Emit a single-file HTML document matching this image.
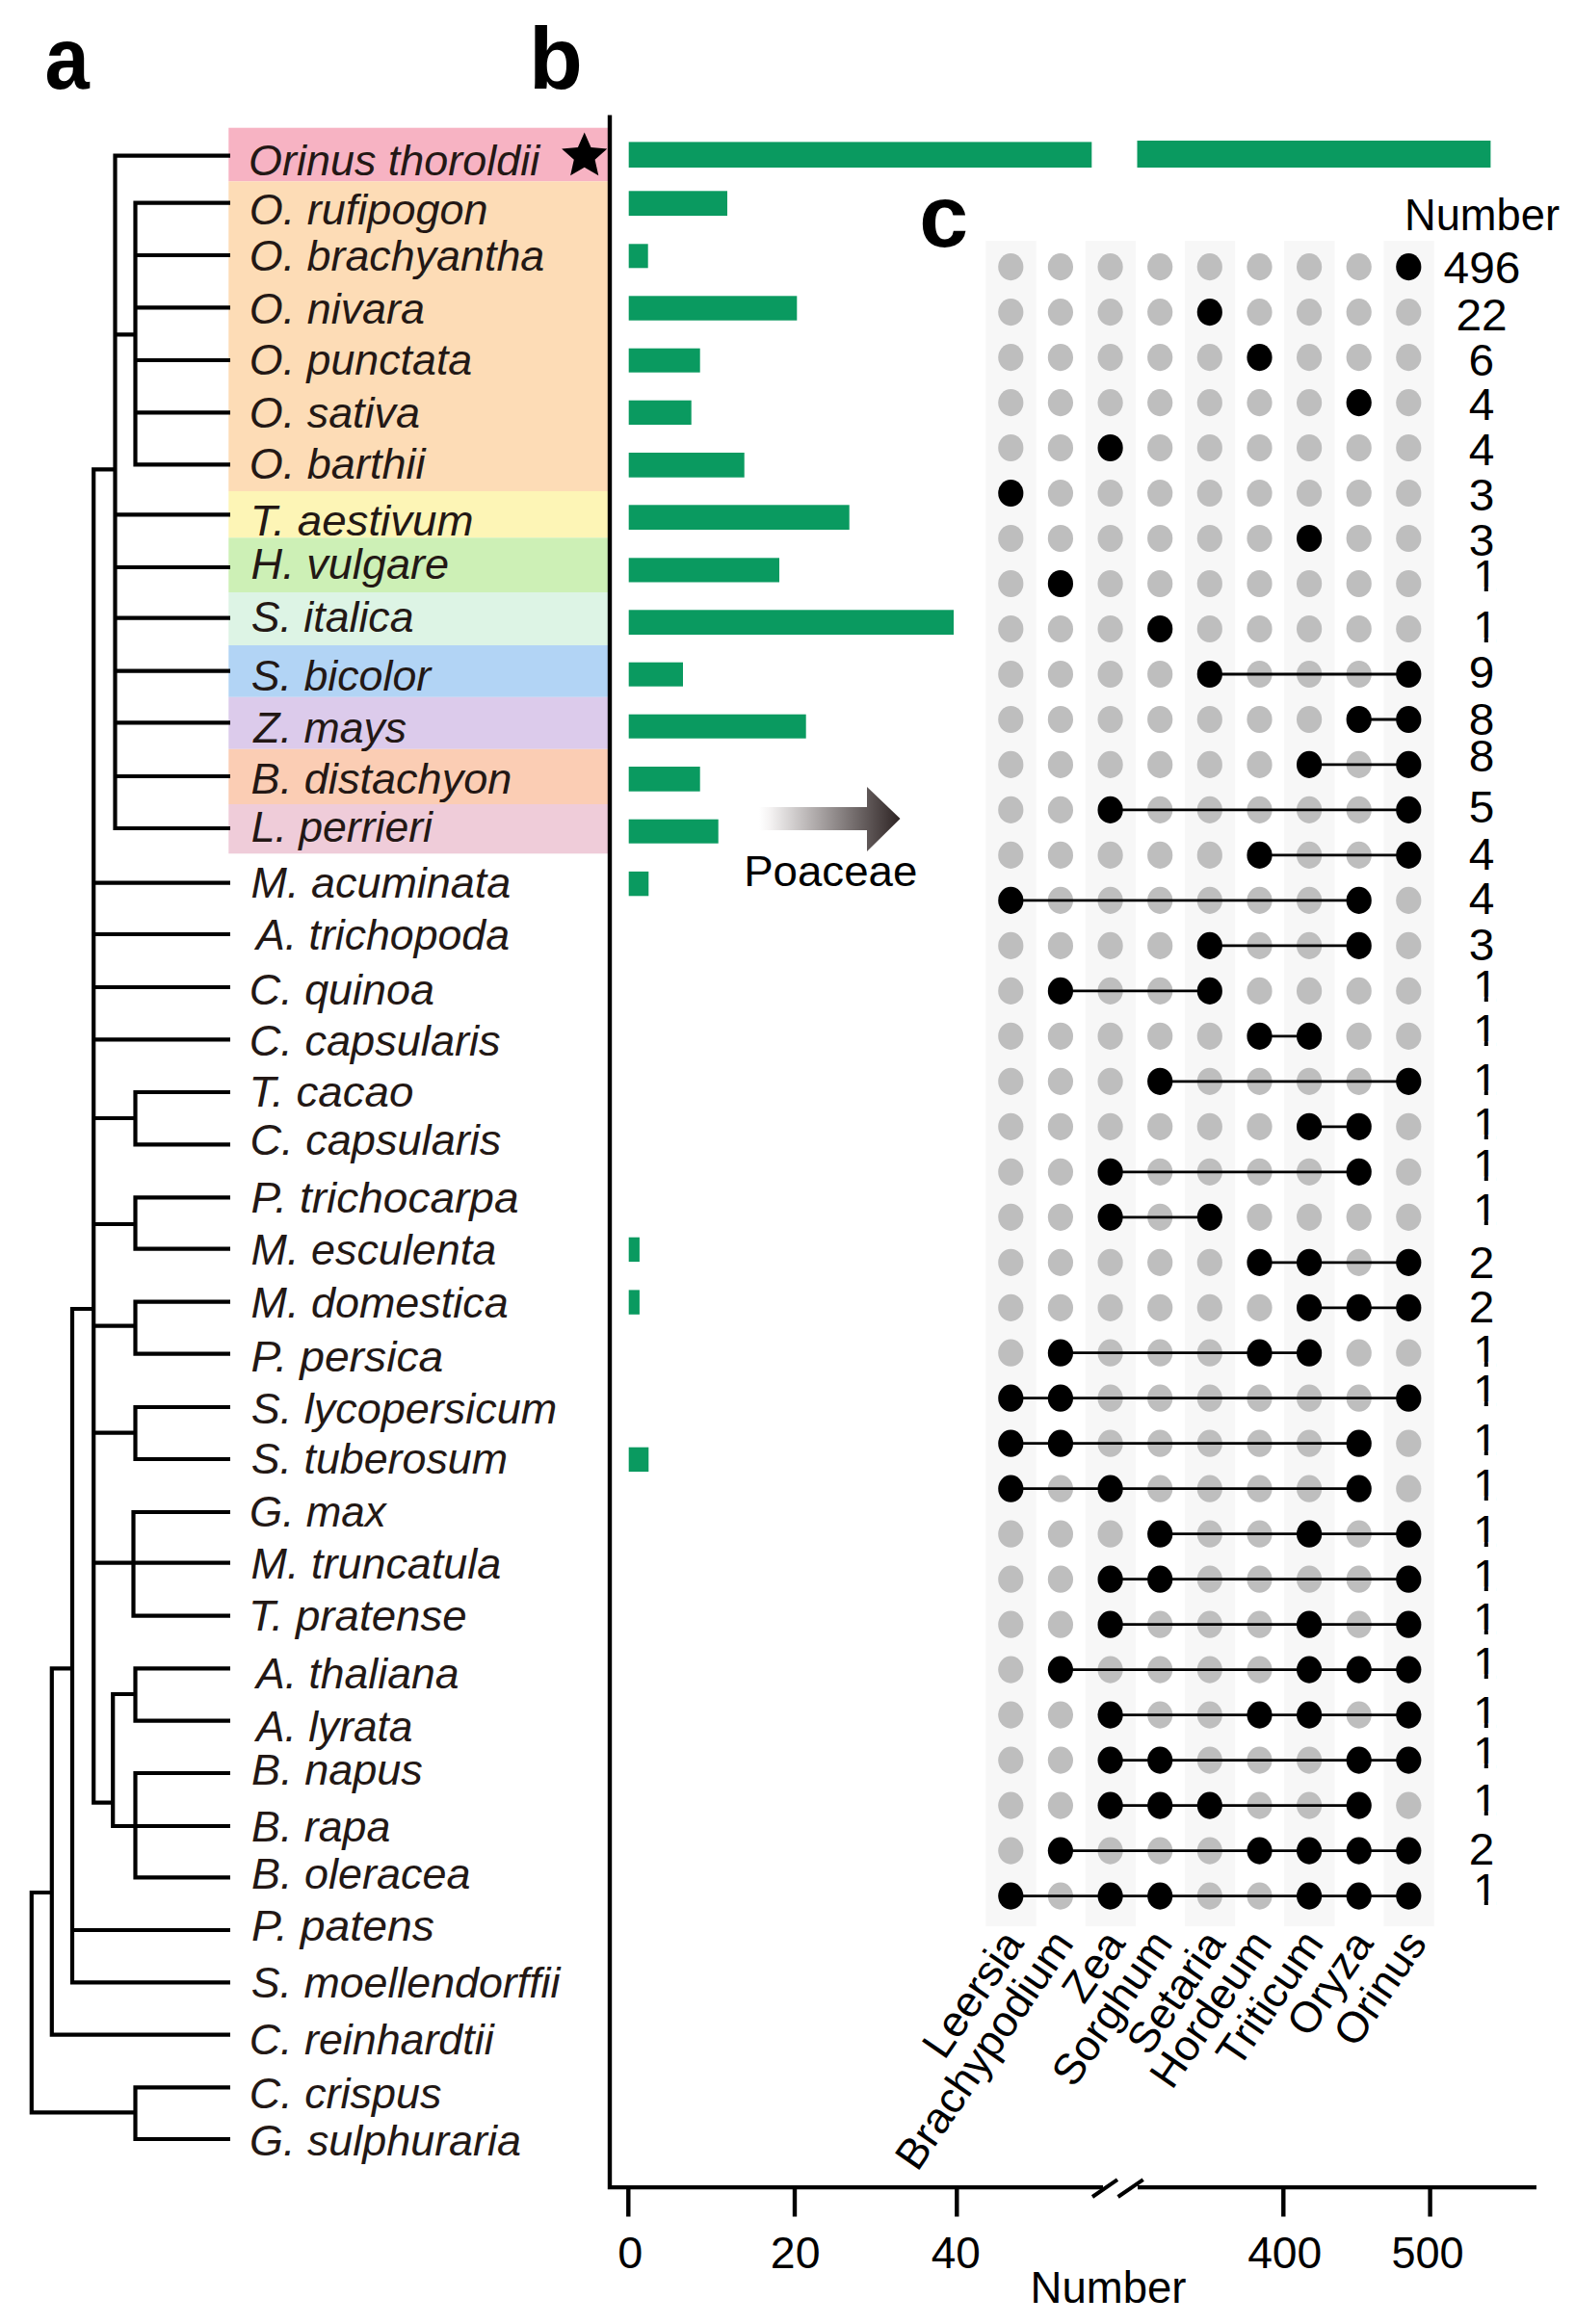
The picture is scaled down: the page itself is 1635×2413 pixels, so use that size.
<!DOCTYPE html>
<html lang="en"><head><meta charset="utf-8"><title>Figure</title>
<style>
html,body{margin:0;padding:0;background:#fff}
svg{display:block;font-family:"Liberation Sans",sans-serif}
</style></head>
<body>
<svg width="1635" height="2413" viewBox="0 0 1635 2413">
<rect width="1635" height="2413" fill="#fff"/>
<rect x="237.3" y="132.7" width="393.7" height="55.6" fill="#f7b3c3"/>
<rect x="237.3" y="188.3" width="393.7" height="321.7" fill="#fddcb6"/>
<rect x="237.3" y="510" width="393.7" height="48.3" fill="#fdf5b6"/>
<rect x="237.3" y="558.3" width="393.7" height="56.7" fill="#cdf0b6"/>
<rect x="237.3" y="615" width="393.7" height="55.0" fill="#ddf4e5"/>
<rect x="237.3" y="670" width="393.7" height="53.8" fill="#b2d4f5"/>
<rect x="237.3" y="723.8" width="393.7" height="54.0" fill="#dccbeb"/>
<rect x="237.3" y="777.8" width="393.7" height="57.2" fill="#fbcdb4"/>
<rect x="237.3" y="835" width="393.7" height="51.3" fill="#efccd9"/>
<path d="M117.4 161.7H239.0M138.4 210.7H239.0M138.4 265.0H239.0M138.4 319.3H239.0M138.4 374.0H239.0M138.4 428.3H239.0M138.4 482.3H239.0M140.5 210.7V482.3M119.5 347.3H140.5M119.5 534.3H239.0M119.5 589.0H239.0M119.5 641.7H239.0M119.5 696.7H239.0M119.5 750.3H239.0M119.5 806.0H239.0M117.4 860.0H239.0M119.5 161.7V860.0M95.1 487.3H119.5M97.2 487.3V1871.7M97.2 916.7H239.0M97.2 970.0H239.0M97.2 1025.0H239.0M97.2 1079.3H239.0M138.4 1134.0H239.0M138.4 1188.3H239.0M140.5 1134.0V1188.3M97.2 1161.0H140.5M138.4 1243.3H239.0M138.4 1296.7H239.0M140.5 1243.3V1296.7M97.2 1271.0H140.5M138.4 1351.7H239.0M138.4 1405.7H239.0M140.5 1351.7V1405.7M97.2 1376.7H140.5M138.4 1461.0H239.0M138.4 1515.0H239.0M140.5 1461.0V1515.0M97.2 1487.7H140.5M136.4 1570.0H239.0M97.2 1622.7H239.0M136.4 1677.7H239.0M138.5 1570.0V1677.7M138.4 1732.3H239.0M138.4 1786.7H239.0M140.5 1732.3V1786.7M115.1 1759.0H140.5M138.4 1841.0H239.0M115.1 1896.0H239.0M138.4 1949.3H239.0M140.5 1841.0V1949.3M117.2 1759.0V1896.0M95.1 1871.7H117.2M72.9 1359.0H97.2M75.0 1359.0V2058.3M75.0 2004.0H239.0M72.9 2058.3H239.0M51.7 1732.3H75.0M53.8 1732.3V2112.7M51.7 2112.7H239.0M30.7 1965.0H53.8M32.8 1965.0V2193.3M30.7 2193.3H140.5M138.4 2167.3H239.0M138.4 2221.0H239.0M140.5 2167.3V2221.0" stroke="#000" stroke-width="4.2" fill="none"/>
<text transform="translate(258.06,181.85) scale(0.9985,1)" font-size="45" font-style="italic" fill="#231815">Orinus thoroldii</text>
<text transform="translate(258.81,232.60) scale(1.0003,1)" font-size="45" font-style="italic" fill="#231815">O. rufipogon</text>
<text transform="translate(258.82,281.35) scale(0.9960,1)" font-size="45" font-style="italic" fill="#231815">O. brachyantha</text>
<text transform="translate(258.82,336.35) scale(0.9981,1)" font-size="45" font-style="italic" fill="#231815">O. nivara</text>
<text transform="translate(258.82,389.35) scale(0.9949,1)" font-size="45" font-style="italic" fill="#231815">O. punctata</text>
<text transform="translate(258.82,443.85) scale(0.9981,1)" font-size="45" font-style="italic" fill="#231815">O. sativa</text>
<text transform="translate(258.81,497.10) scale(1.0006,1)" font-size="45" font-style="italic" fill="#231815">O. barthii</text>
<text transform="translate(259.64,555.50) scale(1.0155,1)" font-size="45" font-style="italic" fill="#231815">T. aestivum</text>
<text transform="translate(260.61,600.50) scale(1.0023,1)" font-size="45" font-style="italic" fill="#231815">H. vulgare</text>
<text transform="translate(260.74,655.50) scale(0.9925,1)" font-size="45" font-style="italic" fill="#231815">S. italica</text>
<text transform="translate(260.73,716.75) scale(0.9943,1)" font-size="45" font-style="italic" fill="#231815">S. bicolor</text>
<text transform="translate(263.37,770.50) scale(0.9924,1)" font-size="45" font-style="italic" fill="#231815">Z. mays</text>
<text transform="translate(260.61,824.25) scale(1.0029,1)" font-size="45" font-style="italic" fill="#231815">B. distachyon</text>
<text transform="translate(260.63,874.25) scale(0.9911,1)" font-size="45" font-style="italic" fill="#231815">L. perrieri</text>
<text transform="translate(260.62,931.75) scale(0.9984,1)" font-size="45" font-style="italic" fill="#231815">M. acuminata</text>
<text transform="translate(265.95,985.50) scale(0.9921,1)" font-size="45" font-style="italic" fill="#231815">A. trichopoda</text>
<text transform="translate(258.77,1043.00) scale(0.9981,1)" font-size="45" font-style="italic" fill="#231815">C. quinoa</text>
<text transform="translate(258.76,1096.00) scale(1.0032,1)" font-size="45" font-style="italic" fill="#231815">C. capsularis</text>
<text transform="translate(258.39,1149.25) scale(1.0155,1)" font-size="45" font-style="italic" fill="#231815">T. cacao</text>
<text transform="translate(259.51,1199.25) scale(1.0032,1)" font-size="45" font-style="italic" fill="#231815">C. capsularis</text>
<text transform="translate(260.58,1258.50) scale(1.0227,1)" font-size="45" font-style="italic" fill="#231815">P. trichocarpa</text>
<text transform="translate(260.62,1313.00) scale(0.9982,1)" font-size="45" font-style="italic" fill="#231815">M. esculenta</text>
<text transform="translate(260.62,1368.00) scale(0.9984,1)" font-size="45" font-style="italic" fill="#231815">M. domestica</text>
<text transform="translate(260.58,1423.50) scale(1.0282,1)" font-size="45" font-style="italic" fill="#231815">P. persica</text>
<text transform="translate(260.73,1477.50) scale(1.0001,1)" font-size="45" font-style="italic" fill="#231815">S. lycopersicum</text>
<text transform="translate(260.73,1530.00) scale(0.9952,1)" font-size="45" font-style="italic" fill="#231815">S. tuberosum</text>
<text transform="translate(259.08,1585.00) scale(0.9766,1)" font-size="45" font-style="italic" fill="#231815">G. max</text>
<text transform="translate(260.62,1639.25) scale(0.9983,1)" font-size="45" font-style="italic" fill="#231815">M. truncatula</text>
<text transform="translate(257.90,1693.00) scale(1.0148,1)" font-size="45" font-style="italic" fill="#231815">T. pratense</text>
<text transform="translate(265.95,1753.00) scale(0.9902,1)" font-size="45" font-style="italic" fill="#231815">A. thaliana</text>
<text transform="translate(265.94,1808.00) scale(0.9850,1)" font-size="45" font-style="italic" fill="#231815">A. lyrata</text>
<text transform="translate(261.11,1853.00) scale(1.0010,1)" font-size="45" font-style="italic" fill="#231815">B. napus</text>
<text transform="translate(261.12,1911.75) scale(0.9936,1)" font-size="45" font-style="italic" fill="#231815">B. rapa</text>
<text transform="translate(261.12,1961.00) scale(0.9990,1)" font-size="45" font-style="italic" fill="#231815">B. oleracea</text>
<text transform="translate(261.07,2015.00) scale(1.0301,1)" font-size="45" font-style="italic" fill="#231815">P. patens</text>
<text transform="translate(260.73,2074.25) scale(0.9942,1)" font-size="45" font-style="italic" fill="#231815">S. moellendorffii</text>
<text transform="translate(258.78,2132.50) scale(0.9955,1)" font-size="45" font-style="italic" fill="#231815">C. reinhardtii</text>
<text transform="translate(258.77,2188.50) scale(0.9981,1)" font-size="45" font-style="italic" fill="#231815">C. crispus</text>
<text transform="translate(259.04,2238.00) scale(0.9978,1)" font-size="45" font-style="italic" fill="#231815">G. sulphuraria</text>
<polygon points="606.7,137.4 613.5,152.9 630.3,154.5 617.6,165.8 621.3,182.3 606.7,173.7 592.1,182.3 595.8,165.8 583.1,154.5 599.9,152.9" fill="#000"/>
<text transform="translate(46.56,91.60) scale(0.9252,1)" font-size="90" font-weight="bold" fill="#000">a</text>
<text transform="translate(549.07,91.60) scale(1.0165,1)" font-size="90" font-weight="bold" fill="#000">b</text>
<text transform="translate(954.13,255.60) scale(1.0159,1)" font-size="90" font-weight="bold" fill="#000">c</text>
<rect x="652.7" y="147.4" width="480.6" height="26.6" fill="#0a9a60"/>
<rect x="652.7" y="198.3" width="102.3" height="25.7" fill="#0a9a60"/>
<rect x="652.7" y="253.3" width="20.0" height="25.0" fill="#0a9a60"/>
<rect x="652.7" y="307.3" width="174.6" height="25.4" fill="#0a9a60"/>
<rect x="652.7" y="361.7" width="74.0" height="25.0" fill="#0a9a60"/>
<rect x="652.7" y="415.7" width="65.0" height="25.3" fill="#0a9a60"/>
<rect x="652.7" y="470" width="120.0" height="25.7" fill="#0a9a60"/>
<rect x="652.7" y="524.3" width="229.0" height="25.7" fill="#0a9a60"/>
<rect x="652.7" y="579.3" width="156.3" height="25.2" fill="#0a9a60"/>
<rect x="652.7" y="633.3" width="337.3" height="25.7" fill="#0a9a60"/>
<rect x="652.7" y="687.7" width="56.3" height="25.0" fill="#0a9a60"/>
<rect x="652.7" y="741.7" width="184.0" height="25.0" fill="#0a9a60"/>
<rect x="652.7" y="796" width="74.0" height="25.7" fill="#0a9a60"/>
<rect x="652.7" y="850.7" width="93.0" height="25.0" fill="#0a9a60"/>
<rect x="652.7" y="904.9" width="20.6" height="25.4" fill="#0a9a60"/>
<rect x="652.7" y="1284.7" width="11.2" height="25.4" fill="#0a9a60"/>
<rect x="652.7" y="1339.4" width="11.2" height="25.4" fill="#0a9a60"/>
<rect x="652.7" y="1502.7" width="20.6" height="25.4" fill="#0a9a60"/>
<rect x="1180.5" y="146" width="366.9" height="28" fill="#0a9a60"/>
<defs><linearGradient id="ag" x1="788" x2="934" y1="0" y2="0" gradientUnits="userSpaceOnUse"><stop offset="0" stop-color="#fff"/><stop offset="0.08" stop-color="#f4f2f2"/><stop offset="1" stop-color="#2e2424"/></linearGradient></defs>
<path d="M788 838H900V817L934.5 850L900 884V862H788Z" fill="url(#ag)"/>
<text transform="translate(772.16,920.20) scale(1.0142,1)" font-size="45" fill="#000">Poaceae</text>
<rect x="1023.4" y="250" width="52.3" height="1750.2" fill="#f7f7f7"/>
<rect x="1126.7" y="250" width="52.3" height="1750.2" fill="#f7f7f7"/>
<rect x="1229.9" y="250" width="52.3" height="1750.2" fill="#f7f7f7"/>
<rect x="1333.2" y="250" width="52.3" height="1750.2" fill="#f7f7f7"/>
<rect x="1436.4" y="250" width="52.3" height="1750.2" fill="#f7f7f7"/>
<g fill="#bebebe"><ellipse cx="1049.3" cy="277.1" rx="13.1" ry="14.1"/><ellipse cx="1100.9" cy="277.1" rx="13.1" ry="14.1"/><ellipse cx="1152.6" cy="277.1" rx="13.1" ry="14.1"/><ellipse cx="1204.2" cy="277.1" rx="13.1" ry="14.1"/><ellipse cx="1255.8" cy="277.1" rx="13.1" ry="14.1"/><ellipse cx="1307.5" cy="277.1" rx="13.1" ry="14.1"/><ellipse cx="1359.1" cy="277.1" rx="13.1" ry="14.1"/><ellipse cx="1410.7" cy="277.1" rx="13.1" ry="14.1"/><ellipse cx="1049.3" cy="324.1" rx="13.1" ry="14.1"/><ellipse cx="1100.9" cy="324.1" rx="13.1" ry="14.1"/><ellipse cx="1152.6" cy="324.1" rx="13.1" ry="14.1"/><ellipse cx="1204.2" cy="324.1" rx="13.1" ry="14.1"/><ellipse cx="1307.5" cy="324.1" rx="13.1" ry="14.1"/><ellipse cx="1359.1" cy="324.1" rx="13.1" ry="14.1"/><ellipse cx="1410.7" cy="324.1" rx="13.1" ry="14.1"/><ellipse cx="1462.3" cy="324.1" rx="13.1" ry="14.1"/><ellipse cx="1049.3" cy="371.1" rx="13.1" ry="14.1"/><ellipse cx="1100.9" cy="371.1" rx="13.1" ry="14.1"/><ellipse cx="1152.6" cy="371.1" rx="13.1" ry="14.1"/><ellipse cx="1204.2" cy="371.1" rx="13.1" ry="14.1"/><ellipse cx="1255.8" cy="371.1" rx="13.1" ry="14.1"/><ellipse cx="1359.1" cy="371.1" rx="13.1" ry="14.1"/><ellipse cx="1410.7" cy="371.1" rx="13.1" ry="14.1"/><ellipse cx="1462.3" cy="371.1" rx="13.1" ry="14.1"/><ellipse cx="1049.3" cy="418.1" rx="13.1" ry="14.1"/><ellipse cx="1100.9" cy="418.1" rx="13.1" ry="14.1"/><ellipse cx="1152.6" cy="418.1" rx="13.1" ry="14.1"/><ellipse cx="1204.2" cy="418.1" rx="13.1" ry="14.1"/><ellipse cx="1255.8" cy="418.1" rx="13.1" ry="14.1"/><ellipse cx="1307.5" cy="418.1" rx="13.1" ry="14.1"/><ellipse cx="1359.1" cy="418.1" rx="13.1" ry="14.1"/><ellipse cx="1462.3" cy="418.1" rx="13.1" ry="14.1"/><ellipse cx="1049.3" cy="465.0" rx="13.1" ry="14.1"/><ellipse cx="1100.9" cy="465.0" rx="13.1" ry="14.1"/><ellipse cx="1204.2" cy="465.0" rx="13.1" ry="14.1"/><ellipse cx="1255.8" cy="465.0" rx="13.1" ry="14.1"/><ellipse cx="1307.5" cy="465.0" rx="13.1" ry="14.1"/><ellipse cx="1359.1" cy="465.0" rx="13.1" ry="14.1"/><ellipse cx="1410.7" cy="465.0" rx="13.1" ry="14.1"/><ellipse cx="1462.3" cy="465.0" rx="13.1" ry="14.1"/><ellipse cx="1100.9" cy="512.0" rx="13.1" ry="14.1"/><ellipse cx="1152.6" cy="512.0" rx="13.1" ry="14.1"/><ellipse cx="1204.2" cy="512.0" rx="13.1" ry="14.1"/><ellipse cx="1255.8" cy="512.0" rx="13.1" ry="14.1"/><ellipse cx="1307.5" cy="512.0" rx="13.1" ry="14.1"/><ellipse cx="1359.1" cy="512.0" rx="13.1" ry="14.1"/><ellipse cx="1410.7" cy="512.0" rx="13.1" ry="14.1"/><ellipse cx="1462.3" cy="512.0" rx="13.1" ry="14.1"/><ellipse cx="1049.3" cy="559.0" rx="13.1" ry="14.1"/><ellipse cx="1100.9" cy="559.0" rx="13.1" ry="14.1"/><ellipse cx="1152.6" cy="559.0" rx="13.1" ry="14.1"/><ellipse cx="1204.2" cy="559.0" rx="13.1" ry="14.1"/><ellipse cx="1255.8" cy="559.0" rx="13.1" ry="14.1"/><ellipse cx="1307.5" cy="559.0" rx="13.1" ry="14.1"/><ellipse cx="1410.7" cy="559.0" rx="13.1" ry="14.1"/><ellipse cx="1462.3" cy="559.0" rx="13.1" ry="14.1"/><ellipse cx="1049.3" cy="606.0" rx="13.1" ry="14.1"/><ellipse cx="1152.6" cy="606.0" rx="13.1" ry="14.1"/><ellipse cx="1204.2" cy="606.0" rx="13.1" ry="14.1"/><ellipse cx="1255.8" cy="606.0" rx="13.1" ry="14.1"/><ellipse cx="1307.5" cy="606.0" rx="13.1" ry="14.1"/><ellipse cx="1359.1" cy="606.0" rx="13.1" ry="14.1"/><ellipse cx="1410.7" cy="606.0" rx="13.1" ry="14.1"/><ellipse cx="1462.3" cy="606.0" rx="13.1" ry="14.1"/><ellipse cx="1049.3" cy="653.0" rx="13.1" ry="14.1"/><ellipse cx="1100.9" cy="653.0" rx="13.1" ry="14.1"/><ellipse cx="1152.6" cy="653.0" rx="13.1" ry="14.1"/><ellipse cx="1255.8" cy="653.0" rx="13.1" ry="14.1"/><ellipse cx="1307.5" cy="653.0" rx="13.1" ry="14.1"/><ellipse cx="1359.1" cy="653.0" rx="13.1" ry="14.1"/><ellipse cx="1410.7" cy="653.0" rx="13.1" ry="14.1"/><ellipse cx="1462.3" cy="653.0" rx="13.1" ry="14.1"/><ellipse cx="1049.3" cy="700.0" rx="13.1" ry="14.1"/><ellipse cx="1100.9" cy="700.0" rx="13.1" ry="14.1"/><ellipse cx="1152.6" cy="700.0" rx="13.1" ry="14.1"/><ellipse cx="1204.2" cy="700.0" rx="13.1" ry="14.1"/><ellipse cx="1307.5" cy="700.0" rx="13.1" ry="14.1"/><ellipse cx="1359.1" cy="700.0" rx="13.1" ry="14.1"/><ellipse cx="1410.7" cy="700.0" rx="13.1" ry="14.1"/><ellipse cx="1049.3" cy="747.0" rx="13.1" ry="14.1"/><ellipse cx="1100.9" cy="747.0" rx="13.1" ry="14.1"/><ellipse cx="1152.6" cy="747.0" rx="13.1" ry="14.1"/><ellipse cx="1204.2" cy="747.0" rx="13.1" ry="14.1"/><ellipse cx="1255.8" cy="747.0" rx="13.1" ry="14.1"/><ellipse cx="1307.5" cy="747.0" rx="13.1" ry="14.1"/><ellipse cx="1359.1" cy="747.0" rx="13.1" ry="14.1"/><ellipse cx="1049.3" cy="793.9" rx="13.1" ry="14.1"/><ellipse cx="1100.9" cy="793.9" rx="13.1" ry="14.1"/><ellipse cx="1152.6" cy="793.9" rx="13.1" ry="14.1"/><ellipse cx="1204.2" cy="793.9" rx="13.1" ry="14.1"/><ellipse cx="1255.8" cy="793.9" rx="13.1" ry="14.1"/><ellipse cx="1307.5" cy="793.9" rx="13.1" ry="14.1"/><ellipse cx="1410.7" cy="793.9" rx="13.1" ry="14.1"/><ellipse cx="1049.3" cy="840.9" rx="13.1" ry="14.1"/><ellipse cx="1100.9" cy="840.9" rx="13.1" ry="14.1"/><ellipse cx="1204.2" cy="840.9" rx="13.1" ry="14.1"/><ellipse cx="1255.8" cy="840.9" rx="13.1" ry="14.1"/><ellipse cx="1307.5" cy="840.9" rx="13.1" ry="14.1"/><ellipse cx="1359.1" cy="840.9" rx="13.1" ry="14.1"/><ellipse cx="1410.7" cy="840.9" rx="13.1" ry="14.1"/><ellipse cx="1049.3" cy="887.9" rx="13.1" ry="14.1"/><ellipse cx="1100.9" cy="887.9" rx="13.1" ry="14.1"/><ellipse cx="1152.6" cy="887.9" rx="13.1" ry="14.1"/><ellipse cx="1204.2" cy="887.9" rx="13.1" ry="14.1"/><ellipse cx="1255.8" cy="887.9" rx="13.1" ry="14.1"/><ellipse cx="1359.1" cy="887.9" rx="13.1" ry="14.1"/><ellipse cx="1410.7" cy="887.9" rx="13.1" ry="14.1"/><ellipse cx="1100.9" cy="934.9" rx="13.1" ry="14.1"/><ellipse cx="1152.6" cy="934.9" rx="13.1" ry="14.1"/><ellipse cx="1204.2" cy="934.9" rx="13.1" ry="14.1"/><ellipse cx="1255.8" cy="934.9" rx="13.1" ry="14.1"/><ellipse cx="1307.5" cy="934.9" rx="13.1" ry="14.1"/><ellipse cx="1359.1" cy="934.9" rx="13.1" ry="14.1"/><ellipse cx="1462.3" cy="934.9" rx="13.1" ry="14.1"/><ellipse cx="1049.3" cy="981.9" rx="13.1" ry="14.1"/><ellipse cx="1100.9" cy="981.9" rx="13.1" ry="14.1"/><ellipse cx="1152.6" cy="981.9" rx="13.1" ry="14.1"/><ellipse cx="1204.2" cy="981.9" rx="13.1" ry="14.1"/><ellipse cx="1307.5" cy="981.9" rx="13.1" ry="14.1"/><ellipse cx="1359.1" cy="981.9" rx="13.1" ry="14.1"/><ellipse cx="1462.3" cy="981.9" rx="13.1" ry="14.1"/><ellipse cx="1049.3" cy="1028.9" rx="13.1" ry="14.1"/><ellipse cx="1152.6" cy="1028.9" rx="13.1" ry="14.1"/><ellipse cx="1204.2" cy="1028.9" rx="13.1" ry="14.1"/><ellipse cx="1307.5" cy="1028.9" rx="13.1" ry="14.1"/><ellipse cx="1359.1" cy="1028.9" rx="13.1" ry="14.1"/><ellipse cx="1410.7" cy="1028.9" rx="13.1" ry="14.1"/><ellipse cx="1462.3" cy="1028.9" rx="13.1" ry="14.1"/><ellipse cx="1049.3" cy="1075.8" rx="13.1" ry="14.1"/><ellipse cx="1100.9" cy="1075.8" rx="13.1" ry="14.1"/><ellipse cx="1152.6" cy="1075.8" rx="13.1" ry="14.1"/><ellipse cx="1204.2" cy="1075.8" rx="13.1" ry="14.1"/><ellipse cx="1255.8" cy="1075.8" rx="13.1" ry="14.1"/><ellipse cx="1410.7" cy="1075.8" rx="13.1" ry="14.1"/><ellipse cx="1462.3" cy="1075.8" rx="13.1" ry="14.1"/><ellipse cx="1049.3" cy="1122.8" rx="13.1" ry="14.1"/><ellipse cx="1100.9" cy="1122.8" rx="13.1" ry="14.1"/><ellipse cx="1152.6" cy="1122.8" rx="13.1" ry="14.1"/><ellipse cx="1255.8" cy="1122.8" rx="13.1" ry="14.1"/><ellipse cx="1307.5" cy="1122.8" rx="13.1" ry="14.1"/><ellipse cx="1359.1" cy="1122.8" rx="13.1" ry="14.1"/><ellipse cx="1410.7" cy="1122.8" rx="13.1" ry="14.1"/><ellipse cx="1049.3" cy="1169.8" rx="13.1" ry="14.1"/><ellipse cx="1100.9" cy="1169.8" rx="13.1" ry="14.1"/><ellipse cx="1152.6" cy="1169.8" rx="13.1" ry="14.1"/><ellipse cx="1204.2" cy="1169.8" rx="13.1" ry="14.1"/><ellipse cx="1255.8" cy="1169.8" rx="13.1" ry="14.1"/><ellipse cx="1307.5" cy="1169.8" rx="13.1" ry="14.1"/><ellipse cx="1462.3" cy="1169.8" rx="13.1" ry="14.1"/><ellipse cx="1049.3" cy="1216.8" rx="13.1" ry="14.1"/><ellipse cx="1100.9" cy="1216.8" rx="13.1" ry="14.1"/><ellipse cx="1204.2" cy="1216.8" rx="13.1" ry="14.1"/><ellipse cx="1255.8" cy="1216.8" rx="13.1" ry="14.1"/><ellipse cx="1307.5" cy="1216.8" rx="13.1" ry="14.1"/><ellipse cx="1359.1" cy="1216.8" rx="13.1" ry="14.1"/><ellipse cx="1462.3" cy="1216.8" rx="13.1" ry="14.1"/><ellipse cx="1049.3" cy="1263.8" rx="13.1" ry="14.1"/><ellipse cx="1100.9" cy="1263.8" rx="13.1" ry="14.1"/><ellipse cx="1204.2" cy="1263.8" rx="13.1" ry="14.1"/><ellipse cx="1307.5" cy="1263.8" rx="13.1" ry="14.1"/><ellipse cx="1359.1" cy="1263.8" rx="13.1" ry="14.1"/><ellipse cx="1410.7" cy="1263.8" rx="13.1" ry="14.1"/><ellipse cx="1462.3" cy="1263.8" rx="13.1" ry="14.1"/><ellipse cx="1049.3" cy="1310.8" rx="13.1" ry="14.1"/><ellipse cx="1100.9" cy="1310.8" rx="13.1" ry="14.1"/><ellipse cx="1152.6" cy="1310.8" rx="13.1" ry="14.1"/><ellipse cx="1204.2" cy="1310.8" rx="13.1" ry="14.1"/><ellipse cx="1255.8" cy="1310.8" rx="13.1" ry="14.1"/><ellipse cx="1410.7" cy="1310.8" rx="13.1" ry="14.1"/><ellipse cx="1049.3" cy="1357.8" rx="13.1" ry="14.1"/><ellipse cx="1100.9" cy="1357.8" rx="13.1" ry="14.1"/><ellipse cx="1152.6" cy="1357.8" rx="13.1" ry="14.1"/><ellipse cx="1204.2" cy="1357.8" rx="13.1" ry="14.1"/><ellipse cx="1255.8" cy="1357.8" rx="13.1" ry="14.1"/><ellipse cx="1307.5" cy="1357.8" rx="13.1" ry="14.1"/><ellipse cx="1049.3" cy="1404.7" rx="13.1" ry="14.1"/><ellipse cx="1152.6" cy="1404.7" rx="13.1" ry="14.1"/><ellipse cx="1204.2" cy="1404.7" rx="13.1" ry="14.1"/><ellipse cx="1255.8" cy="1404.7" rx="13.1" ry="14.1"/><ellipse cx="1410.7" cy="1404.7" rx="13.1" ry="14.1"/><ellipse cx="1462.3" cy="1404.7" rx="13.1" ry="14.1"/><ellipse cx="1152.6" cy="1451.7" rx="13.1" ry="14.1"/><ellipse cx="1204.2" cy="1451.7" rx="13.1" ry="14.1"/><ellipse cx="1255.8" cy="1451.7" rx="13.1" ry="14.1"/><ellipse cx="1307.5" cy="1451.7" rx="13.1" ry="14.1"/><ellipse cx="1359.1" cy="1451.7" rx="13.1" ry="14.1"/><ellipse cx="1410.7" cy="1451.7" rx="13.1" ry="14.1"/><ellipse cx="1152.6" cy="1498.7" rx="13.1" ry="14.1"/><ellipse cx="1204.2" cy="1498.7" rx="13.1" ry="14.1"/><ellipse cx="1255.8" cy="1498.7" rx="13.1" ry="14.1"/><ellipse cx="1307.5" cy="1498.7" rx="13.1" ry="14.1"/><ellipse cx="1359.1" cy="1498.7" rx="13.1" ry="14.1"/><ellipse cx="1462.3" cy="1498.7" rx="13.1" ry="14.1"/><ellipse cx="1100.9" cy="1545.7" rx="13.1" ry="14.1"/><ellipse cx="1204.2" cy="1545.7" rx="13.1" ry="14.1"/><ellipse cx="1255.8" cy="1545.7" rx="13.1" ry="14.1"/><ellipse cx="1307.5" cy="1545.7" rx="13.1" ry="14.1"/><ellipse cx="1359.1" cy="1545.7" rx="13.1" ry="14.1"/><ellipse cx="1462.3" cy="1545.7" rx="13.1" ry="14.1"/><ellipse cx="1049.3" cy="1592.7" rx="13.1" ry="14.1"/><ellipse cx="1100.9" cy="1592.7" rx="13.1" ry="14.1"/><ellipse cx="1152.6" cy="1592.7" rx="13.1" ry="14.1"/><ellipse cx="1255.8" cy="1592.7" rx="13.1" ry="14.1"/><ellipse cx="1307.5" cy="1592.7" rx="13.1" ry="14.1"/><ellipse cx="1410.7" cy="1592.7" rx="13.1" ry="14.1"/><ellipse cx="1049.3" cy="1639.7" rx="13.1" ry="14.1"/><ellipse cx="1100.9" cy="1639.7" rx="13.1" ry="14.1"/><ellipse cx="1255.8" cy="1639.7" rx="13.1" ry="14.1"/><ellipse cx="1307.5" cy="1639.7" rx="13.1" ry="14.1"/><ellipse cx="1359.1" cy="1639.7" rx="13.1" ry="14.1"/><ellipse cx="1410.7" cy="1639.7" rx="13.1" ry="14.1"/><ellipse cx="1049.3" cy="1686.7" rx="13.1" ry="14.1"/><ellipse cx="1100.9" cy="1686.7" rx="13.1" ry="14.1"/><ellipse cx="1204.2" cy="1686.7" rx="13.1" ry="14.1"/><ellipse cx="1255.8" cy="1686.7" rx="13.1" ry="14.1"/><ellipse cx="1307.5" cy="1686.7" rx="13.1" ry="14.1"/><ellipse cx="1410.7" cy="1686.7" rx="13.1" ry="14.1"/><ellipse cx="1049.3" cy="1733.6" rx="13.1" ry="14.1"/><ellipse cx="1152.6" cy="1733.6" rx="13.1" ry="14.1"/><ellipse cx="1204.2" cy="1733.6" rx="13.1" ry="14.1"/><ellipse cx="1255.8" cy="1733.6" rx="13.1" ry="14.1"/><ellipse cx="1307.5" cy="1733.6" rx="13.1" ry="14.1"/><ellipse cx="1049.3" cy="1780.6" rx="13.1" ry="14.1"/><ellipse cx="1100.9" cy="1780.6" rx="13.1" ry="14.1"/><ellipse cx="1204.2" cy="1780.6" rx="13.1" ry="14.1"/><ellipse cx="1255.8" cy="1780.6" rx="13.1" ry="14.1"/><ellipse cx="1410.7" cy="1780.6" rx="13.1" ry="14.1"/><ellipse cx="1049.3" cy="1827.6" rx="13.1" ry="14.1"/><ellipse cx="1100.9" cy="1827.6" rx="13.1" ry="14.1"/><ellipse cx="1255.8" cy="1827.6" rx="13.1" ry="14.1"/><ellipse cx="1307.5" cy="1827.6" rx="13.1" ry="14.1"/><ellipse cx="1359.1" cy="1827.6" rx="13.1" ry="14.1"/><ellipse cx="1049.3" cy="1874.6" rx="13.1" ry="14.1"/><ellipse cx="1100.9" cy="1874.6" rx="13.1" ry="14.1"/><ellipse cx="1307.5" cy="1874.6" rx="13.1" ry="14.1"/><ellipse cx="1359.1" cy="1874.6" rx="13.1" ry="14.1"/><ellipse cx="1462.3" cy="1874.6" rx="13.1" ry="14.1"/><ellipse cx="1049.3" cy="1921.6" rx="13.1" ry="14.1"/><ellipse cx="1152.6" cy="1921.6" rx="13.1" ry="14.1"/><ellipse cx="1204.2" cy="1921.6" rx="13.1" ry="14.1"/><ellipse cx="1255.8" cy="1921.6" rx="13.1" ry="14.1"/><ellipse cx="1100.9" cy="1968.6" rx="13.1" ry="14.1"/><ellipse cx="1255.8" cy="1968.6" rx="13.1" ry="14.1"/><ellipse cx="1307.5" cy="1968.6" rx="13.1" ry="14.1"/></g>
<path d="M1255.8 700.0H1462.3M1410.7 747.0H1462.3M1359.1 793.9H1462.3M1152.6 840.9H1462.3M1307.5 887.9H1462.3M1049.3 934.9H1410.7M1255.8 981.9H1410.7M1100.9 1028.9H1255.8M1307.5 1075.8H1359.1M1204.2 1122.8H1462.3M1359.1 1169.8H1410.7M1152.6 1216.8H1410.7M1152.6 1263.8H1255.8M1307.5 1310.8H1462.3M1359.1 1357.8H1462.3M1100.9 1404.7H1359.1M1049.3 1451.7H1462.3M1049.3 1498.7H1410.7M1049.3 1545.7H1410.7M1204.2 1592.7H1462.3M1152.6 1639.7H1462.3M1152.6 1686.7H1462.3M1100.9 1733.6H1462.3M1152.6 1780.6H1462.3M1152.6 1827.6H1462.3M1152.6 1874.6H1410.7M1100.9 1921.6H1462.3M1049.3 1968.6H1462.3" stroke="#000" stroke-width="2.8" fill="none"/>
<g fill="#000"><ellipse cx="1462.3" cy="277.1" rx="13.1" ry="14.1"/><ellipse cx="1255.8" cy="324.1" rx="13.1" ry="14.1"/><ellipse cx="1307.5" cy="371.1" rx="13.1" ry="14.1"/><ellipse cx="1410.7" cy="418.1" rx="13.1" ry="14.1"/><ellipse cx="1152.6" cy="465.0" rx="13.1" ry="14.1"/><ellipse cx="1049.3" cy="512.0" rx="13.1" ry="14.1"/><ellipse cx="1359.1" cy="559.0" rx="13.1" ry="14.1"/><ellipse cx="1100.9" cy="606.0" rx="13.1" ry="14.1"/><ellipse cx="1204.2" cy="653.0" rx="13.1" ry="14.1"/><ellipse cx="1255.8" cy="700.0" rx="13.1" ry="14.1"/><ellipse cx="1462.3" cy="700.0" rx="13.1" ry="14.1"/><ellipse cx="1410.7" cy="747.0" rx="13.1" ry="14.1"/><ellipse cx="1462.3" cy="747.0" rx="13.1" ry="14.1"/><ellipse cx="1359.1" cy="793.9" rx="13.1" ry="14.1"/><ellipse cx="1462.3" cy="793.9" rx="13.1" ry="14.1"/><ellipse cx="1152.6" cy="840.9" rx="13.1" ry="14.1"/><ellipse cx="1462.3" cy="840.9" rx="13.1" ry="14.1"/><ellipse cx="1307.5" cy="887.9" rx="13.1" ry="14.1"/><ellipse cx="1462.3" cy="887.9" rx="13.1" ry="14.1"/><ellipse cx="1049.3" cy="934.9" rx="13.1" ry="14.1"/><ellipse cx="1410.7" cy="934.9" rx="13.1" ry="14.1"/><ellipse cx="1255.8" cy="981.9" rx="13.1" ry="14.1"/><ellipse cx="1410.7" cy="981.9" rx="13.1" ry="14.1"/><ellipse cx="1100.9" cy="1028.9" rx="13.1" ry="14.1"/><ellipse cx="1255.8" cy="1028.9" rx="13.1" ry="14.1"/><ellipse cx="1307.5" cy="1075.8" rx="13.1" ry="14.1"/><ellipse cx="1359.1" cy="1075.8" rx="13.1" ry="14.1"/><ellipse cx="1204.2" cy="1122.8" rx="13.1" ry="14.1"/><ellipse cx="1462.3" cy="1122.8" rx="13.1" ry="14.1"/><ellipse cx="1359.1" cy="1169.8" rx="13.1" ry="14.1"/><ellipse cx="1410.7" cy="1169.8" rx="13.1" ry="14.1"/><ellipse cx="1152.6" cy="1216.8" rx="13.1" ry="14.1"/><ellipse cx="1410.7" cy="1216.8" rx="13.1" ry="14.1"/><ellipse cx="1152.6" cy="1263.8" rx="13.1" ry="14.1"/><ellipse cx="1255.8" cy="1263.8" rx="13.1" ry="14.1"/><ellipse cx="1307.5" cy="1310.8" rx="13.1" ry="14.1"/><ellipse cx="1359.1" cy="1310.8" rx="13.1" ry="14.1"/><ellipse cx="1462.3" cy="1310.8" rx="13.1" ry="14.1"/><ellipse cx="1359.1" cy="1357.8" rx="13.1" ry="14.1"/><ellipse cx="1410.7" cy="1357.8" rx="13.1" ry="14.1"/><ellipse cx="1462.3" cy="1357.8" rx="13.1" ry="14.1"/><ellipse cx="1100.9" cy="1404.7" rx="13.1" ry="14.1"/><ellipse cx="1307.5" cy="1404.7" rx="13.1" ry="14.1"/><ellipse cx="1359.1" cy="1404.7" rx="13.1" ry="14.1"/><ellipse cx="1049.3" cy="1451.7" rx="13.1" ry="14.1"/><ellipse cx="1100.9" cy="1451.7" rx="13.1" ry="14.1"/><ellipse cx="1462.3" cy="1451.7" rx="13.1" ry="14.1"/><ellipse cx="1049.3" cy="1498.7" rx="13.1" ry="14.1"/><ellipse cx="1100.9" cy="1498.7" rx="13.1" ry="14.1"/><ellipse cx="1410.7" cy="1498.7" rx="13.1" ry="14.1"/><ellipse cx="1049.3" cy="1545.7" rx="13.1" ry="14.1"/><ellipse cx="1152.6" cy="1545.7" rx="13.1" ry="14.1"/><ellipse cx="1410.7" cy="1545.7" rx="13.1" ry="14.1"/><ellipse cx="1204.2" cy="1592.7" rx="13.1" ry="14.1"/><ellipse cx="1359.1" cy="1592.7" rx="13.1" ry="14.1"/><ellipse cx="1462.3" cy="1592.7" rx="13.1" ry="14.1"/><ellipse cx="1152.6" cy="1639.7" rx="13.1" ry="14.1"/><ellipse cx="1204.2" cy="1639.7" rx="13.1" ry="14.1"/><ellipse cx="1462.3" cy="1639.7" rx="13.1" ry="14.1"/><ellipse cx="1152.6" cy="1686.7" rx="13.1" ry="14.1"/><ellipse cx="1359.1" cy="1686.7" rx="13.1" ry="14.1"/><ellipse cx="1462.3" cy="1686.7" rx="13.1" ry="14.1"/><ellipse cx="1100.9" cy="1733.6" rx="13.1" ry="14.1"/><ellipse cx="1359.1" cy="1733.6" rx="13.1" ry="14.1"/><ellipse cx="1410.7" cy="1733.6" rx="13.1" ry="14.1"/><ellipse cx="1462.3" cy="1733.6" rx="13.1" ry="14.1"/><ellipse cx="1152.6" cy="1780.6" rx="13.1" ry="14.1"/><ellipse cx="1307.5" cy="1780.6" rx="13.1" ry="14.1"/><ellipse cx="1359.1" cy="1780.6" rx="13.1" ry="14.1"/><ellipse cx="1462.3" cy="1780.6" rx="13.1" ry="14.1"/><ellipse cx="1152.6" cy="1827.6" rx="13.1" ry="14.1"/><ellipse cx="1204.2" cy="1827.6" rx="13.1" ry="14.1"/><ellipse cx="1410.7" cy="1827.6" rx="13.1" ry="14.1"/><ellipse cx="1462.3" cy="1827.6" rx="13.1" ry="14.1"/><ellipse cx="1152.6" cy="1874.6" rx="13.1" ry="14.1"/><ellipse cx="1204.2" cy="1874.6" rx="13.1" ry="14.1"/><ellipse cx="1255.8" cy="1874.6" rx="13.1" ry="14.1"/><ellipse cx="1410.7" cy="1874.6" rx="13.1" ry="14.1"/><ellipse cx="1100.9" cy="1921.6" rx="13.1" ry="14.1"/><ellipse cx="1307.5" cy="1921.6" rx="13.1" ry="14.1"/><ellipse cx="1359.1" cy="1921.6" rx="13.1" ry="14.1"/><ellipse cx="1410.7" cy="1921.6" rx="13.1" ry="14.1"/><ellipse cx="1462.3" cy="1921.6" rx="13.1" ry="14.1"/><ellipse cx="1049.3" cy="1968.6" rx="13.1" ry="14.1"/><ellipse cx="1152.6" cy="1968.6" rx="13.1" ry="14.1"/><ellipse cx="1204.2" cy="1968.6" rx="13.1" ry="14.1"/><ellipse cx="1359.1" cy="1968.6" rx="13.1" ry="14.1"/><ellipse cx="1410.7" cy="1968.6" rx="13.1" ry="14.1"/><ellipse cx="1462.3" cy="1968.6" rx="13.1" ry="14.1"/></g>
<text transform="translate(1498.59,293.90) scale(1.0400,1)" font-size="46" fill="#000">496</text>
<text transform="translate(1511.39,342.50) scale(1.0400,1)" font-size="46" fill="#000">22</text>
<text transform="translate(1524.53,390.00) scale(1.0400,1)" font-size="46" fill="#000">6</text>
<text transform="translate(1524.85,436.10) scale(1.0400,1)" font-size="46" fill="#000">4</text>
<text transform="translate(1524.85,482.80) scale(1.0400,1)" font-size="46" fill="#000">4</text>
<text transform="translate(1524.84,530.20) scale(1.0400,1)" font-size="46" fill="#000">3</text>
<text transform="translate(1524.84,576.60) scale(1.0400,1)" font-size="46" fill="#000">3</text>
<text x="1529.2" y="614.20" font-size="46" fill="#000">1</text>
<path d="M1531.96 609.46H1540.77V615.40H1531.96ZM1544.83 609.46H1553.58V615.40H1544.83Z" fill="#fff"/>
<text x="1529.2" y="666.70" font-size="46" fill="#000">1</text>
<path d="M1531.96 661.96H1540.77V667.90H1531.96ZM1544.83 661.96H1553.58V667.90H1544.83Z" fill="#fff"/>
<text transform="translate(1524.71,714.40) scale(1.0400,1)" font-size="46" fill="#000">9</text>
<text transform="translate(1524.70,763.00) scale(1.0400,1)" font-size="46" fill="#000">8</text>
<text transform="translate(1524.70,801.40) scale(1.0400,1)" font-size="46" fill="#000">8</text>
<text transform="translate(1524.74,853.90) scale(1.0400,1)" font-size="46" fill="#000">5</text>
<text transform="translate(1524.85,902.50) scale(1.0400,1)" font-size="46" fill="#000">4</text>
<text transform="translate(1524.85,949.40) scale(1.0400,1)" font-size="46" fill="#000">4</text>
<text transform="translate(1524.84,997.40) scale(1.0400,1)" font-size="46" fill="#000">3</text>
<text x="1529.2" y="1039.50" font-size="46" fill="#000">1</text>
<path d="M1531.96 1034.76H1540.77V1040.70H1531.96ZM1544.83 1034.76H1553.58V1040.70H1544.83Z" fill="#fff"/>
<text x="1529.2" y="1085.70" font-size="46" fill="#000">1</text>
<path d="M1531.96 1080.96H1540.77V1086.90H1531.96ZM1544.83 1080.96H1553.58V1086.90H1544.83Z" fill="#fff"/>
<text x="1529.2" y="1136.80" font-size="46" fill="#000">1</text>
<path d="M1531.96 1132.06H1540.77V1138.00H1531.96ZM1544.83 1132.06H1553.58V1138.00H1544.83Z" fill="#fff"/>
<text x="1529.2" y="1183.00" font-size="46" fill="#000">1</text>
<path d="M1531.96 1178.26H1540.77V1184.20H1531.96ZM1544.83 1178.26H1553.58V1184.20H1544.83Z" fill="#fff"/>
<text x="1529.2" y="1226.20" font-size="46" fill="#000">1</text>
<path d="M1531.96 1221.46H1540.77V1227.40H1531.96ZM1544.83 1221.46H1553.58V1227.40H1544.83Z" fill="#fff"/>
<text x="1529.2" y="1271.60" font-size="46" fill="#000">1</text>
<path d="M1531.96 1266.86H1540.77V1272.80H1531.96ZM1544.83 1266.86H1553.58V1272.80H1544.83Z" fill="#fff"/>
<text transform="translate(1524.70,1326.50) scale(1.0400,1)" font-size="46" fill="#000">2</text>
<text transform="translate(1524.70,1373.10) scale(1.0400,1)" font-size="46" fill="#000">2</text>
<text x="1529.2" y="1418.50" font-size="46" fill="#000">1</text>
<path d="M1531.96 1413.76H1540.77V1419.70H1531.96ZM1544.83 1413.76H1553.58V1419.70H1544.83Z" fill="#fff"/>
<text x="1529.2" y="1459.70" font-size="46" fill="#000">1</text>
<path d="M1531.96 1454.96H1540.77V1460.90H1531.96ZM1544.83 1454.96H1553.58V1460.90H1544.83Z" fill="#fff"/>
<text x="1529.2" y="1510.80" font-size="46" fill="#000">1</text>
<path d="M1531.96 1506.06H1540.77V1512.00H1531.96ZM1544.83 1506.06H1553.58V1512.00H1544.83Z" fill="#fff"/>
<text x="1529.2" y="1558.30" font-size="46" fill="#000">1</text>
<path d="M1531.96 1553.56H1540.77V1559.50H1531.96ZM1544.83 1553.56H1553.58V1559.50H1544.83Z" fill="#fff"/>
<text x="1529.2" y="1605.70" font-size="46" fill="#000">1</text>
<path d="M1531.96 1600.96H1540.77V1606.90H1531.96ZM1544.83 1600.96H1553.58V1606.90H1544.83Z" fill="#fff"/>
<text x="1529.2" y="1652.30" font-size="46" fill="#000">1</text>
<path d="M1531.96 1647.56H1540.77V1653.50H1531.96ZM1544.83 1647.56H1553.58V1653.50H1544.83Z" fill="#fff"/>
<text x="1529.2" y="1696.80" font-size="46" fill="#000">1</text>
<path d="M1531.96 1692.06H1540.77V1698.00H1531.96ZM1544.83 1692.06H1553.58V1698.00H1544.83Z" fill="#fff"/>
<text x="1529.2" y="1742.90" font-size="46" fill="#000">1</text>
<path d="M1531.96 1738.16H1540.77V1744.10H1531.96ZM1544.83 1738.16H1553.58V1744.10H1544.83Z" fill="#fff"/>
<text x="1529.2" y="1794.10" font-size="46" fill="#000">1</text>
<path d="M1531.96 1789.36H1540.77V1795.30H1531.96ZM1544.83 1789.36H1553.58V1795.30H1544.83Z" fill="#fff"/>
<text x="1529.2" y="1835.70" font-size="46" fill="#000">1</text>
<path d="M1531.96 1830.96H1540.77V1836.90H1531.96ZM1544.83 1830.96H1553.58V1836.90H1544.83Z" fill="#fff"/>
<text x="1529.2" y="1884.90" font-size="46" fill="#000">1</text>
<path d="M1531.96 1880.16H1540.77V1886.10H1531.96ZM1544.83 1880.16H1553.58V1886.10H1544.83Z" fill="#fff"/>
<text transform="translate(1524.70,1935.60) scale(1.0400,1)" font-size="46" fill="#000">2</text>
<text x="1529.2" y="1977.70" font-size="46" fill="#000">1</text>
<path d="M1531.96 1972.96H1540.77V1978.90H1531.96ZM1544.83 1972.96H1553.58V1978.90H1544.83Z" fill="#fff"/>
<text transform="translate(1457.99,239.30) scale(0.9845,1)" font-size="46" fill="#000">Number</text>
<text transform="translate(1064.1,2018) rotate(-55.5) scale(1.015,1)" font-size="44.5" text-anchor="end" fill="#000">Leersia</text>
<text transform="translate(1115.7,2018) rotate(-55.5) scale(1.015,1)" font-size="44.5" text-anchor="end" fill="#000">Brachypodium</text>
<text transform="translate(1169.4,2018) rotate(-55.5) scale(1.015,1)" font-size="44.5" text-anchor="end" fill="#000">Zea</text>
<text transform="translate(1218.5,2018) rotate(-55.5) scale(1.015,1)" font-size="44.5" text-anchor="end" fill="#000">Sorghum</text>
<text transform="translate(1273.6,2018) rotate(-55.5) scale(1.015,1)" font-size="44.5" text-anchor="end" fill="#000">Setaria</text>
<text transform="translate(1321.8,2018) rotate(-55.5) scale(1.015,1)" font-size="44.5" text-anchor="end" fill="#000">Hordeum</text>
<text transform="translate(1375.4,2018) rotate(-55.5) scale(1.015,1)" font-size="44.5" text-anchor="end" fill="#000">Triticum</text>
<text transform="translate(1427.0,2018) rotate(-55.5) scale(1.015,1)" font-size="44.5" text-anchor="end" fill="#000">Oryza</text>
<text transform="translate(1482.6,2018) rotate(-55.5) scale(1.015,1)" font-size="44.5" text-anchor="end" fill="#000">Orinus</text>
<path d="M633 119.4V2273.3M630.8 2271.1H1145M1181 2271.1H1595M652.3 2271V2301.5M825 2271V2301.5M993.3 2271V2301.5M1332.3 2271V2301.5M1484.6 2271V2301.5" stroke="#000" stroke-width="4.4" fill="none"/>
<path d="M1134 2281L1160 2263.2M1160.6 2281L1186.7 2263.2" stroke="#000" stroke-width="4" fill="none"/>
<text transform="translate(641.37,2354.80) scale(1.0187,1)" font-size="46" fill="#000">0</text>
<text transform="translate(799.86,2354.80) scale(1.0094,1)" font-size="46" fill="#000">20</text>
<text transform="translate(966.75,2354.80) scale(0.9977,1)" font-size="46" fill="#000">40</text>
<text transform="translate(1295.14,2354.80) scale(1.0055,1)" font-size="46" fill="#000">400</text>
<text transform="translate(1444.39,2354.80) scale(0.9807,1)" font-size="46" fill="#000">500</text>
<text transform="translate(1069.57,2391.40) scale(0.9895,1)" font-size="46" fill="#000">Number</text>
</svg>
</body></html>
